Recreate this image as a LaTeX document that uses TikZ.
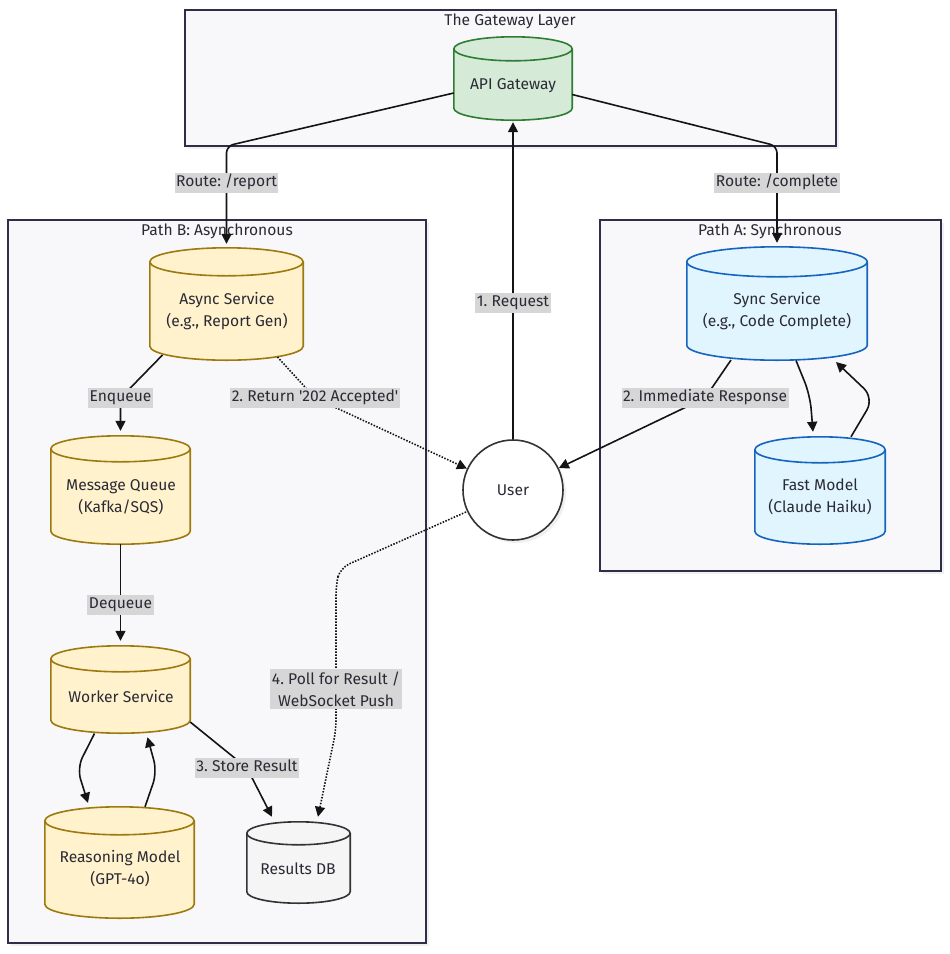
\documentclass[tikz,border=0pt]{standalone}
\usepackage{fontspec}
\setmainfont{Fira Sans}
\usetikzlibrary{arrows.meta,calc}
\definecolor{boxbg}{HTML}{F8F8FA}
\definecolor{boxln}{HTML}{2E2E48}
\definecolor{txt}{HTML}{2A2A35}
\definecolor{gfill}{HTML}{D5EBD8}
\definecolor{gline}{HTML}{2E7D32}
\definecolor{yfill}{HTML}{FFF2CC}
\definecolor{yline}{HTML}{9C7A10}
\definecolor{bfill}{HTML}{E1F5FE}
\definecolor{bline}{HTML}{1565C0}
\definecolor{dfill}{HTML}{F5F5F5}
\definecolor{dline}{HTML}{333333}
\definecolor{lblbg}{HTML}{D6D6D6}
\newcommand\fs{\fontsize{15.6}{22}\selectfont\frenchspacing}
\newcommand\cylpath[2]{let \p1=(#1.north west), \p2=(#1.south east), \n1={(\x2-\x1)/2} in
   (\x1,\y1-#2pt) -- (\x1,\y2+#2pt) arc[start angle=180,end angle=360,x radius=\n1,y radius=#2pt]
   -- (\x2,\y1-#2pt) arc[start angle=0,end angle=180,x radius=\n1,y radius=#2pt] -- cycle}
\newcommand\drawcyl[4]{%
  \path[fill=black,opacity=0.07,shift={(3pt,-3pt)}] \cylpath{#1}{#2};
  \path[fill=#3,draw=#4,line width=1.6pt] \cylpath{#1}{#2};
  \draw[#4,line width=1.6pt] let \p1=(#1.north west), \p2=(#1.south east), \n1={(\x2-\x1)/2} in
   (\x1,\y1-#2pt) arc[start angle=180,end angle=360,x radius=\n1,y radius=#2pt];
}
\tikzset{
  cyl/.style={rectangle,inner sep=0pt},
  ntext/.style={text=txt,align=center,font=\fs,inner sep=0pt},
  cluster/.style={draw=boxln,fill=boxbg,line width=1.6pt},
  cshadow/.style={fill=black,opacity=0.06},
  ctitle/.style={text=txt,font=\fs,inner sep=0pt},
  lbl/.style={sharp corners,fill=lblbg,text=txt,font=\fs,inner xsep=1.5pt,inner ysep=2.5pt,text height=11.5pt,text depth=4pt},
  lbltwo/.style={sharp corners,fill=lblbg,text=txt,font=\fs,inner xsep=1.5pt,inner ysep=2.5pt,align=center},
  edge/.style={draw=black!92,line width=1.6pt,-{Triangle[length=10pt,width=10pt]}},
  dotedge/.style={edge,dash pattern=on 1.5pt off 1.5pt},
}
\begin{document}
\begin{tikzpicture}[x=1pt,y=-1pt]
\useasboundingbox[fill=white] (0,0) rectangle (950,954);
% node frames
\node[cyl,minimum width=118pt,minimum height=83pt] (api) at (513,78.5) {};
\node[cyl,minimum width=153pt,minimum height=112pt] (async) at (226.5,304) {};
\node[cyl,minimum width=139pt,minimum height=108pt] (mq) at (120.5,490) {};
\node[cyl,minimum width=139pt,minimum height=87pt] (worker) at (120.5,689.5) {};
\node[cyl,minimum width=149pt,minimum height=111pt] (reason) at (119.5,862.5) {};
\node[cyl,minimum width=103pt,minimum height=81pt] (results) at (298.5,862.5) {};
\node[cyl,minimum width=180pt,minimum height=113pt] (sync) at (777,303.5) {};
\node[cyl,minimum width=130pt,minimum height=107pt] (fast) at (820,490.5) {};
% clusters
\fill[cshadow] (188,13) rectangle (839,149);
\fill[cshadow] (11,223) rectangle (429,946);
\fill[cshadow] (603,223) rectangle (944,574);
\draw[cluster] (185,10) rectangle (836,146);
\draw[cluster] (8,220) rectangle (426,943);
\draw[cluster] (600,220) rectangle (941,571);
\node[ctitle] (tgw) at (510,21) {The Gateway Layer};
\node[ctitle] (tpb) at (217,231) {Path B: Asynchronous};
\node[ctitle] (tpa) at (770,231) {Path A: Synchronous};
% cylinders
\drawcyl{api}{12}{gfill}{gline}
\drawcyl{async}{14}{yfill}{yline}
\drawcyl{mq}{13}{yfill}{yline}
\drawcyl{worker}{13}{yfill}{yline}
\drawcyl{reason}{14}{yfill}{yline}
\drawcyl{results}{11.5}{dfill}{dline}
\drawcyl{sync}{15}{bfill}{bline}
\drawcyl{fast}{13}{bfill}{bline}
% texts
\node[ntext] (apit) at (513,86) {API Gateway};
\node[ntext] (asynct) at (227,311) {Async Service\\(e.g., Report Gen)};
\node[ntext] (mqt) at (121,497) {Message Queue\\(Kafka/SQS)};
\node[ntext] (workert) at (121,696) {Worker Service};
\node[ntext] (reasont) at (120,869) {Reasoning Model\\(GPT-4o)};
\node[ntext] (resultst) at (298,869) {Results DB};
\node[ntext] (synct) at (777,311) {Sync Service\\(e.g., Code Complete)};
\node[ntext] (fastt) at (820,497) {Fast Model\\(Claude Haiku)};
\fill[cshadow] (516,493) circle[radius=50pt];
\node[circle,draw=dline,fill=white,line width=1.6pt,minimum size=100pt,text=txt,font=\fs] (user) at (513,490) {User};
% edges
\draw[edge,rounded corners=7pt] ($(api.west)+(0,14.5)$) -- (async.north |- 0,146)
   -- node[lbl,pos=0.38]{Route: /report} ([yshift=4pt]async.north);
\draw[edge,rounded corners=7pt] ($(api.east)+(0,16)$) -- (sync.north |- 0,146)
   -- node[lbl,pos=0.38]{Route: /complete} ([yshift=4pt]sync.north);
\draw[edge] (user.north) -- node[lbl,pos=0.43]{1. Request} ([yshift=-2pt]api.south);
\draw[edge,rounded corners=6pt] ($(async.center)+(-64,51)$) -- (mq.north |- 0,398) node[lbl]{Enqueue}
   -- ([yshift=5pt]mq.north);
\draw[dotedge,rounded corners=6pt] ($(async.center)+(51,53)$) -- (315,398) node[lbl]{2. Return \textquotesingle 202 Accepted\textquotesingle} -- (user);
\draw[edge] (mq.south) -- node[lbl,pos=0.63]{Dequeue} ([yshift=5pt]worker.north);
\draw[edge,rounded corners=12pt] ($(worker.center)+(-26,44)$) -- (77,768) -- ($(reason.north)+(-31.5,-4)$);
\draw[edge,rounded corners=12pt] ($(reason.north)+(25.5,0)$) -- (157,772) -- ($(worker.south)+(27,4)$);
\draw[edge,rounded corners=8pt] ($(worker.east)+(0,32.5)$) -- (247,768) node[lbl]{3. Store Result}
   -- ($(results.north)+(-26.5,-5)$);
\draw[dotedge,rounded corners=10pt] ($(user.center)+(-47,22)$) -- (340,568) -- (336,585) -- (336,689)
   node[lbltwo]{4. Poll for Result /\\WebSocket Push} -- (336,730) -- ($(results.north)+(19.5,-5)$);
\draw[edge,rounded corners=6pt] ($(sync.center)+(-46,56.5)$) -- (705,398) node[lbl]{2. Immediate Response} -- (user);
\draw[edge,rounded corners=14pt] ($(sync.center)+(19,57)$) -- (810,395) -- ($(fast.north)+(-7,-5)$);
\draw[edge,rounded corners=14pt] ($(fast.north)+(31,0)$) -- (874,398) -- ($(sync.center)+(59,58.5)$);
\end{tikzpicture}
\end{document}
